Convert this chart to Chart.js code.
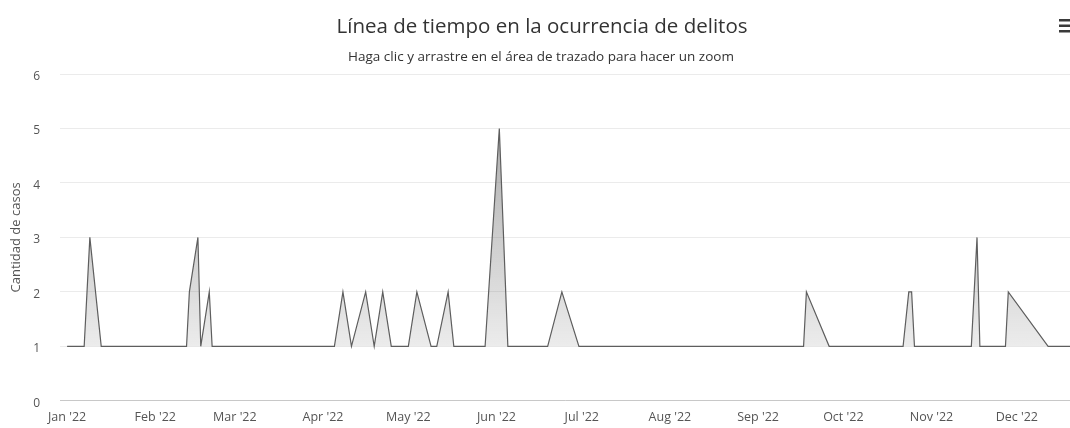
<!DOCTYPE html>
<html>
<head>
<meta charset="utf-8">
<script src="https://cdn.jsdelivr.net/npm/chart.js@4/dist/chart.umd.min.js"></script>
<style>
  html, body { margin: 0; padding: 0; background: #fff; overflow: hidden; }
</style>
</head>
<body>
<canvas id="mycanvas" width="1070" height="428"></canvas>
<script>
// days counted from 1 Jan 2022
var days   = [0, 6, 8, 12, 42, 43, 46, 47, 50, 51, 94, 97, 100, 105, 108, 111, 114, 120, 123, 128, 130, 134, 136,
              147, 152, 155, 169, 174, 180, 259, 260, 268, 294, 296, 297, 298, 318, 320, 321, 330, 331, 345, 364];
var casos  = [1, 1, 3, 1, 1, 2, 3, 1, 2, 1, 1, 2, 1, 2, 1, 2, 1, 1, 2, 1, 1, 2, 1,
              1, 5, 1, 1, 2, 1, 1, 2, 1, 1, 2, 2, 1, 1, 3, 1, 1, 2, 1, 1];

var monthStarts = [0, 31, 59, 90, 120, 151, 181, 212, 243, 273, 304, 334];
var monthLabels = ["Jan '22", "Feb '22", "Mar '22", "Apr '22", "May '22", "Jun '22",
                   "Jul '22", "Aug '22", "Sep '22", "Oct '22", "Nov '22", "Dec '22"];

var titulo    = "Línea de tiempo en la ocurrencia de delitos";
var subtitulo = "Haga clic y arrastre en el área de trazado para hacer un zoom";
var ejeY      = "Cantidad de casos";

var FONT = "'Open Sans', 'DejaVu Sans', sans-serif";

var points = [];
for (var i in days) {
  points.push({x: days[i], y: casos[i]});
}

// title, subtitle and the menu icon
var headerPlugin = {
  id: 'header',
  afterDraw: function(chart) {
    var ctx = chart.ctx;
    ctx.save();
    ctx.textAlign = 'center';
    ctx.textBaseline = 'alphabetic';
    ctx.fillStyle = '#333';
    ctx.font = '20.5px ' + FONT;
    ctx.fillText(titulo, 542, 33);
    ctx.font = '13.5px ' + FONT;
    ctx.fillText(subtitulo, 541, 61);
    ctx.fillStyle = '#3a3a3a';
    ctx.fillRect(1059, 19, 12, 2.5);
    ctx.fillRect(1059, 24.5, 12, 2.5);
    ctx.fillRect(1059, 30, 12, 2.5);
    ctx.restore();
  }
};

var ctx = document.getElementById('mycanvas');

var chartdata = {
  datasets: [
    {
      label: "Casos",
      data: points,
      fill: {value: 1},
      lineTension: 0,
      borderColor: "#5e5e5e",
      borderWidth: 1.2,
      pointRadius: 0,
      backgroundColor: function(context) {
        var chart = context.chart;
        if (!chart.chartArea) return 'rgba(150,150,150,0.3)';
        var y = chart.scales.y;
        var g = chart.ctx.createLinearGradient(0, y.getPixelForValue(5), 0, y.getPixelForValue(1));
        g.addColorStop(0, 'rgba(120,120,120,0.6)');
        g.addColorStop(1, 'rgba(120,120,120,0.14)');
        return g;
      }
    }
  ]
};

var LineGraph = new Chart(ctx, {
  type: 'line',
  data: chartdata,
  plugins: [headerPlugin],
  options: {
    responsive: false,
    animation: false,
    devicePixelRatio: 1,
    layout: { padding: { top: 74, left: 0, right: 0, bottom: 0 } },
    plugins: {
      legend: { display: false },
      tooltip: { enabled: false },
      title: { display: false }
    },
    scales: {
      x: {
        type: 'linear',
        min: -2.5,
        max: 352.7,
        afterBuildTicks: function(scale) {
          scale.ticks = monthStarts.map(function(v) { return {value: v}; });
        },
        afterFit: function(scale) { scale.height = 24; },
        grid: { display: false, drawTicks: false },
        border: { display: true, color: '#c8c8c8', width: 1 },
        ticks: {
          autoSkip: false,
          maxRotation: 0,
          padding: 9,
          color: '#555',
          font: { family: FONT, size: 12.5 },
          callback: function(value) {
            var k = monthStarts.indexOf(value);
            return k >= 0 ? monthLabels[k] : '';
          }
        }
      },
      y: {
        min: 0,
        max: 6,
        afterFit: function(scale) { scale.width = 60; },
        grid: { color: '#ebebeb', drawTicks: false },
        border: { display: false },
        ticks: {
          stepSize: 1,
          padding: 20,
          labelOffset: 2.5,
          color: '#555',
          font: { family: FONT, size: 12 }
        },
        title: {
          display: true,
          text: ejeY,
          color: '#555',
          padding: { top: 8, bottom: 0 },
          font: { family: FONT, size: 13 }
        }
      }
    }
  }
});
</script>
</body>
</html>
